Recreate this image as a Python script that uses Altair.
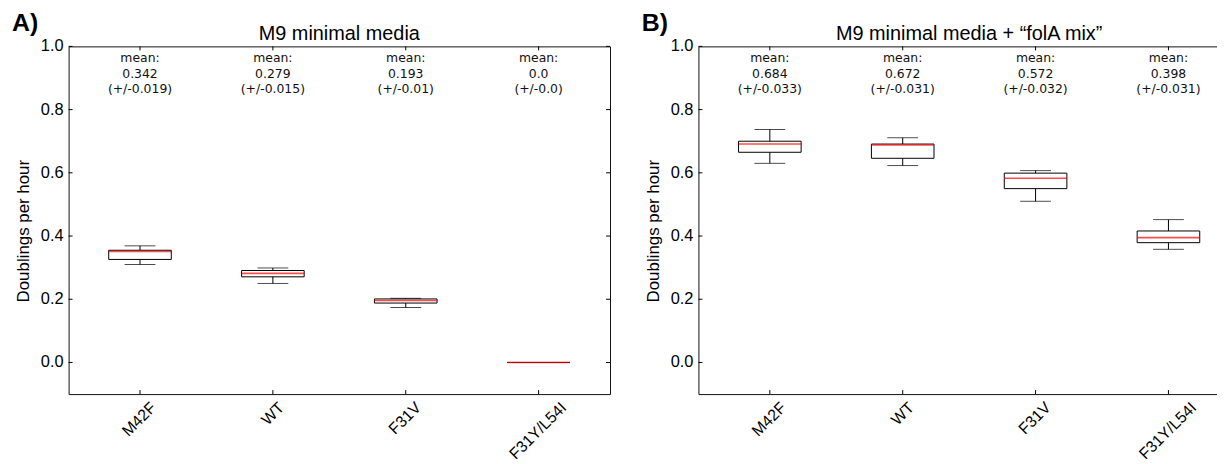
import altair as alt
import pandas as pd

# ---------------- data ----------------
names = ["M42F", "WT", "F31V", "F31Y/L54I"]
positions = [1, 2, 3, 4]

# Panel A: M9 minimal media
a_whisker_lo = [0.310, 0.250, 0.174, 0.0]
a_q1 = [0.326, 0.271, 0.188, 0.0]
a_median = [0.351, 0.282, 0.196, 0.0]
a_q3 = [0.355, 0.291, 0.201, 0.0]
a_whisker_hi = [0.369, 0.299, 0.203, 0.0]
a_mean = [0.342, 0.279, 0.193, 0.0]
a_err = [0.019, 0.015, 0.01, 0.0]

# Panel B: M9 minimal media + "folA mix"
b_whisker_lo = [0.630, 0.623, 0.510, 0.358]
b_q1 = [0.665, 0.646, 0.550, 0.379]
b_median = [0.691, 0.688, 0.583, 0.395]
b_q3 = [0.700, 0.691, 0.599, 0.416]
b_whisker_hi = [0.737, 0.711, 0.607, 0.452]
b_mean = [0.684, 0.672, 0.572, 0.398]
b_err = [0.033, 0.031, 0.032, 0.031]

y_ticks = [0.0, 0.2, 0.4, 0.6, 0.8, 1.0]
y_tick_labels = ["0.0", "0.2", "0.4", "0.6", "0.8", "1.0"]
y_title = "Doublings per hour"

# ---------------- styling ----------------
W, H = 545, 350
SANS = "Liberation Sans"
label_shift_px = [14, 9, 13, 26]   # rotated labels are centred on their tick
PX_PER_UNIT = W / 4.0


def make_df(lo, q1, med, q3, hi, mean, err):
    return pd.DataFrame({
        "pos": positions,
        "name": names,
        "shift": label_shift_px,
        "lo": lo, "q1": q1, "med": med, "q3": q3, "hi": hi,
        "label": ["mean:\n%s\n(+/-%s)" % (str(m), str(e)) for m, e in zip(mean, err)],
    })


def panel(df, title, letter):
    xs = alt.Scale(domain=[0.5, 4.5], nice=False, zero=False)
    ys = alt.Scale(domain=[-0.1, 1.0], nice=False, zero=False)
    X = alt.X("pos:Q", scale=xs, axis=None)
    base = alt.Chart(df)
    whisk = base.mark_rule(color="black", strokeWidth=1).encode(
        x=X, y=alt.Y("lo:Q", scale=ys, axis=None), y2="hi:Q")
    box = base.mark_bar(size=63, fill="white", stroke="black", strokeWidth=1).encode(
        x=X, y=alt.Y("q1:Q", scale=ys, axis=None), y2="q3:Q")
    cap_lo = base.mark_tick(orient="horizontal", size=31, thickness=1, color="black").encode(
        x=X, y=alt.Y("lo:Q", scale=ys, axis=None))
    cap_hi = base.mark_tick(orient="horizontal", size=31, thickness=1, color="black").encode(
        x=X, y=alt.Y("hi:Q", scale=ys, axis=None))
    med = base.mark_tick(orient="horizontal", size=63, thickness=1.6, color="red").encode(
        x=X, y=alt.Y("med:Q", scale=ys, axis=None))
    txt = base.mark_text(baseline="top", align="center", lineBreak="\n", font="DejaVu Sans",
                         fontSize=12.5, lineHeight=15.7, color="#111111").encode(
        x=X, y=alt.value(6), text="label:N")
    xlab = base.transform_calculate(
        lx="datum.pos + datum.shift / %f" % PX_PER_UNIT
    ).mark_text(angle=315, align="right", baseline="middle", font=SANS, fontSize=16,
                color="black").encode(
        x=alt.X("lx:Q", scale=xs, axis=None), y=alt.value(H + 11), text="name:N")

    tdf = pd.DataFrame({"t": y_ticks, "lab": y_tick_labels})
    ylab = alt.Chart(tdf).mark_text(align="right", baseline="middle", font=SANS,
                                    fontSize=16.5, color="black").encode(
        y=alt.Y("t:Q", scale=ys, axis=None), x=alt.value(-5), text="lab:N")
    yttl = alt.Chart(pd.DataFrame({"t": [y_title]})).mark_text(
        angle=270, align="center", baseline="middle", font=SANS, fontSize=17,
        color="black").encode(text="t:N", x=alt.value(-45), y=alt.value(186))
    yt_l = alt.Chart(tdf).mark_rule(color="black", strokeWidth=1).encode(
        y=alt.Y("t:Q", scale=ys, axis=None), x=alt.value(0), x2=alt.value(4))
    yt_r = alt.Chart(tdf).mark_rule(color="black", strokeWidth=1).encode(
        y=alt.Y("t:Q", scale=ys, axis=None), x=alt.value(W - 4), x2=alt.value(W))
    xt_t = base.mark_rule(color="black", strokeWidth=1).encode(
        x=X, y=alt.value(0), y2=alt.value(4))
    xt_b = base.mark_rule(color="black", strokeWidth=1).encode(
        x=X, y=alt.value(H - 4), y2=alt.value(H))
    let = alt.Chart(pd.DataFrame({"t": [letter]})).mark_text(
        align="left", baseline="alphabetic", font=SANS, fontSize=25, fontWeight="bold",
        color="black").encode(text="t:N", x=alt.value(-57), y=alt.value(-15))
    ttl = alt.Chart(pd.DataFrame({"t": [title]})).mark_text(
        align="center", baseline="alphabetic", font=SANS, fontSize=20,
        color="black").encode(text="t:N", x=alt.value(W / 2), y=alt.value(-6))

    return alt.layer(whisk, box, cap_lo, cap_hi, med, txt, xlab, ylab, yttl, yt_l, yt_r,
                     xt_t, xt_b, let, ttl).properties(
        width=W, height=H, view=alt.ViewConfig(stroke="#111111", strokeWidth=1))


dfa = make_df(a_whisker_lo, a_q1, a_median, a_q3, a_whisker_hi, a_mean, a_err)
dfb = make_df(b_whisker_lo, b_q1, b_median, b_q3, b_whisker_hi, b_mean, b_err)

chart = alt.hconcat(
    panel(dfa, "M9 minimal media", "A)"),
    panel(dfb, "M9 minimal media + \u201cfolA mix\u201d", "B)"),
    spacing=30,
).properties(
    autosize=alt.AutoSizeParams(type="none"),
    padding={"left": 61, "top": 36, "right": 1156, "bottom": 412},
).configure_view(stroke="#111111", strokeWidth=1).configure(background="white")

chart.save("out.html", embed_options={"renderer": "svg", "actions": False})
